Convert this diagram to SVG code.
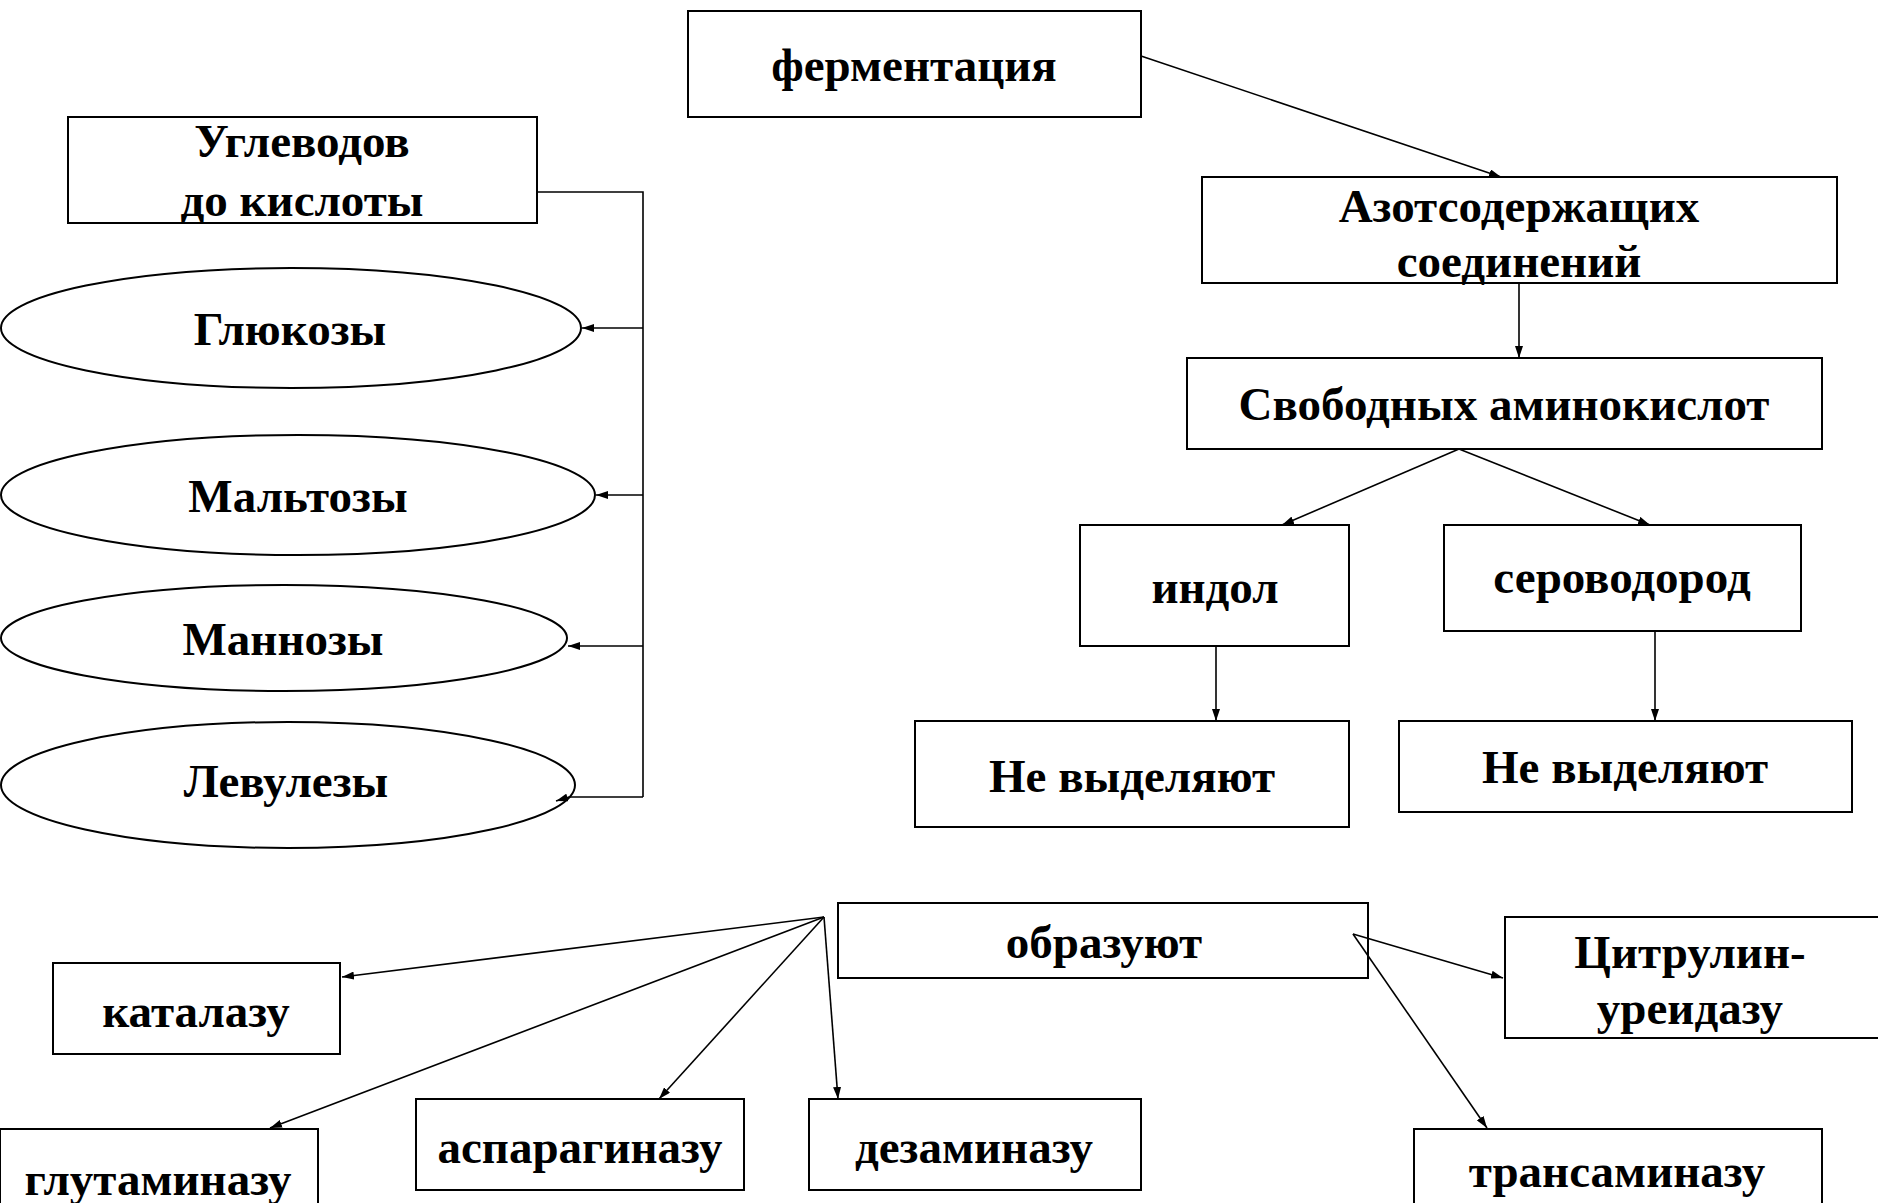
<svg xmlns="http://www.w3.org/2000/svg" width="1878" height="1203" viewBox="0 0 1878 1203">
<style>
.box{fill:#fff;stroke:#000;stroke-width:2}
.ell{fill:#fff;stroke:#000;stroke-width:2}
.t{font-family:"Liberation Serif","Times New Roman",serif;font-weight:bold;font-size:47px;fill:#000;text-anchor:middle}
.c{fill:none;stroke:#000;stroke-width:1.6}
.a{marker-end:url(#arr)}
</style>
<defs>
<marker id="arr" viewBox="0 0 12 8" refX="12" refY="4" markerWidth="12" markerHeight="8" markerUnits="userSpaceOnUse" orient="auto">
<path d="M0,0 L12,4 L0,8 z" fill="#000"/>
</marker>
</defs>
<rect width="1878" height="1203" fill="#fff"/>
<g id="fermentacia"><rect class="box" x="688" y="11" width="453" height="106"/><text class="t" x="914" y="81">ферментация</text></g>
<g id="uglevodov"><rect class="box" x="68" y="117" width="469" height="106"/><text class="t" x="302" y="157">Углеводов</text><text class="t" x="302" y="216">до кислоты</text></g>
<g id="glukozy"><ellipse class="ell" cx="291" cy="328" rx="290" ry="60"/><text class="t" x="290" y="345">Глюкозы</text></g>
<g id="maltozy"><ellipse class="ell" cx="298" cy="495" rx="297" ry="60"/><text class="t" x="298" y="512">Мальтозы</text></g>
<g id="mannozy"><ellipse class="ell" cx="284" cy="638" rx="283" ry="53"/><text class="t" x="283" y="655">Маннозы</text></g>
<g id="levulezy"><ellipse class="ell" cx="288" cy="785" rx="287" ry="63"/><text class="t" x="286" y="797">Левулезы</text></g>
<g id="azot"><rect class="box" x="1202" y="177" width="635" height="106"/><text class="t" x="1519" y="222">Азотсодержащих</text><text class="t" x="1519" y="277">соединений</text></g>
<g id="svobodnyh"><rect class="box" x="1187" y="358" width="635" height="91"/><text class="t" x="1504" y="420">Свободных аминокислот</text></g>
<g id="indol"><rect class="box" x="1080" y="525" width="269" height="121"/><text class="t" x="1215" y="603">индол</text></g>
<g id="serovodorod"><rect class="box" x="1444" y="525" width="357" height="106"/><text class="t" x="1622" y="593">сероводород</text></g>
<g id="ne1"><rect class="box" x="915" y="721" width="434" height="106"/><text class="t" x="1132" y="792">Не выделяют</text></g>
<g id="ne2"><rect class="box" x="1399" y="721" width="453" height="91"/><text class="t" x="1625" y="783">Не выделяют</text></g>
<g id="obrazuyut"><rect class="box" x="838" y="903" width="530" height="75"/><text class="t" x="1104" y="958">образуют</text></g>
<g id="katalazu"><rect class="box" x="53" y="963" width="287" height="91"/><text class="t" x="196" y="1027">каталазу</text></g>
<g id="glutaminazu"><rect class="box" x="0" y="1129" width="318" height="90"/><text class="t" x="158" y="1195">глутаминазу</text></g>
<g id="asparaginazu"><rect class="box" x="416" y="1099" width="328" height="91"/><text class="t" x="580" y="1163">аспарагиназу</text></g>
<g id="dezaminazu"><rect class="box" x="809" y="1099" width="332" height="91"/><text class="t" x="974" y="1163">дезаминазу</text></g>
<g id="citrulin"><rect class="box" x="1505" y="917" width="390" height="121"/><text class="t" x="1690" y="968">Цитрулин-</text><text class="t" x="1690" y="1024">уреидазу</text></g>
<g id="transaminazu"><rect class="box" x="1414" y="1129" width="408" height="90"/><text class="t" x="1617" y="1187">трансаминазу</text></g>
<g id="connectors">
<polyline class="c" points="537,192 643,192 643,797"/>
<line class="c a" x1="643" y1="328" x2="582" y2="328"/>
<line class="c a" x1="643" y1="495" x2="596" y2="495"/>
<line class="c a" x1="643" y1="646" x2="568" y2="646"/>
<polyline class="c a" points="643,797 569,797 556,801"/>
<line class="c a" x1="1141" y1="56" x2="1501" y2="177"/>
<line class="c a" x1="1519" y1="283" x2="1519" y2="358"/>
<line class="c a" x1="1459" y1="449" x2="1282" y2="525"/>
<line class="c a" x1="1459" y1="449" x2="1650" y2="525"/>
<line class="c a" x1="1216" y1="646" x2="1216" y2="721"/>
<line class="c a" x1="1655" y1="631" x2="1655" y2="721"/>
<line class="c a" x1="824" y1="917" x2="342" y2="977"/>
<line class="c a" x1="824" y1="917" x2="270" y2="1128"/>
<line class="c a" x1="824" y1="917" x2="659" y2="1099"/>
<line class="c a" x1="824" y1="917" x2="838" y2="1099"/>
<line class="c a" x1="1353" y1="934" x2="1503" y2="978"/>
<line class="c a" x1="1353" y1="934" x2="1487" y2="1128"/>
</g>
</svg>
